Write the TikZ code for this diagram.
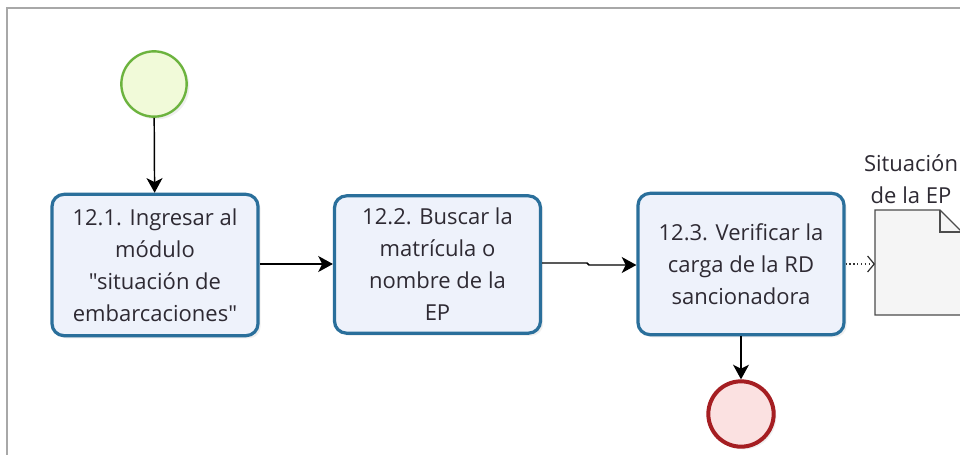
\documentclass[tikz,border=0pt]{standalone}
\usepackage{fontspec}
\setmainfont{Open Sans}[Ligatures=TeXOff]
\usetikzlibrary{arrows.meta,shadows}
\definecolor{taskborder}{HTML}{2A6F9B}
\definecolor{taskfill}{HTML}{EEF2FB}
\definecolor{txt}{HTML}{2E2A33}
\definecolor{startb}{HTML}{6CB33E}
\definecolor{startf}{HTML}{F1FAD9}
\definecolor{endb}{HTML}{A51E22}
\definecolor{endf}{HTML}{FBE1E1}
\definecolor{frame}{HTML}{A8A8A8}
\tikzset{
  px/.style={x=0.75pt,y=-0.75pt},
  task/.style={draw=taskborder, line width=2.4pt, fill=taskfill, rounded corners=9pt,
    minimum width=154.5pt, minimum height=106pt, inner sep=0pt, align=center,
    text=txt, font=\fontsize{16.5}{24}\selectfont,
    drop shadow={shadow xshift=2pt,shadow yshift=-2pt,opacity=0.12}},
  flow/.style={-{Stealth[length=11pt,width=12pt,inset=3pt]}, line width=1.1pt, black},
  startev/.style={circle, draw=startb, fill=startf, line width=1.8pt, minimum size=49pt, inner sep=0pt,
    drop shadow={shadow xshift=2pt,shadow yshift=-2pt,opacity=0.12}},
  endev/.style={circle, draw=endb, fill=endf, line width=3pt, minimum size=49pt, inner sep=0pt,
    drop shadow={shadow xshift=2pt,shadow yshift=-2pt,opacity=0.12}},
  assoc/.style={dotted, line width=0.9pt, -{Straight Barb[length=5pt,width=12pt]}, black!80},
}
\begin{document}
\begin{tikzpicture}[px]
\useasboundingbox (0,0) rectangle (960,454);
\clip (0,0) rectangle (960,454);
\fill[white] (0,0) rectangle (960,454);
\draw[frame, line width=1.2pt] (7,8) rectangle (970,470);
% nodes
\node[startev] (start) at (154,84) {};
\node[task] (t1) at (155,265) {12.1. Ingresar al\\módulo\\"situación de\\embarcaciones"};
\node[task, minimum height=103pt] (t2) at (437.5,264.5) {12.2. Buscar la\\matrícula o\\nombre de la\\EP};
\node[task, minimum height=106pt] (t3) at (741,264) {12.3. Verificar la\\carga de la RD\\sancionadora};
\node[endev] (end) at (741,414) {};
% document
\coordinate (docl) at (875,264);
\draw[black!70, line width=1pt, fill=white!96!black] (875,210) -- (940,210) -- (962,232) -- (962,315) -- (875,315) -- cycle;
\draw[black!70, line width=1pt] (940,210) -- (940,232) -- (962,232);
\node[text=txt, align=center, font=\fontsize{16.5}{24}\selectfont] (doclabel) at (911,179) {Situación\\de la EP};
% connectors
\draw[flow] (start) -- (t1);
\draw[flow] (t1.east |- 0,264) -- (t2.west |- 0,264);
\draw[flow] (t2.east |- 0,263) -- (587,263) -- (589,265) -- (t3.west |- 0,265);
\draw[flow] (t3) -- (end);
\draw[assoc] (t3.east |- docl) -- (docl);
\end{tikzpicture}
\end{document}
